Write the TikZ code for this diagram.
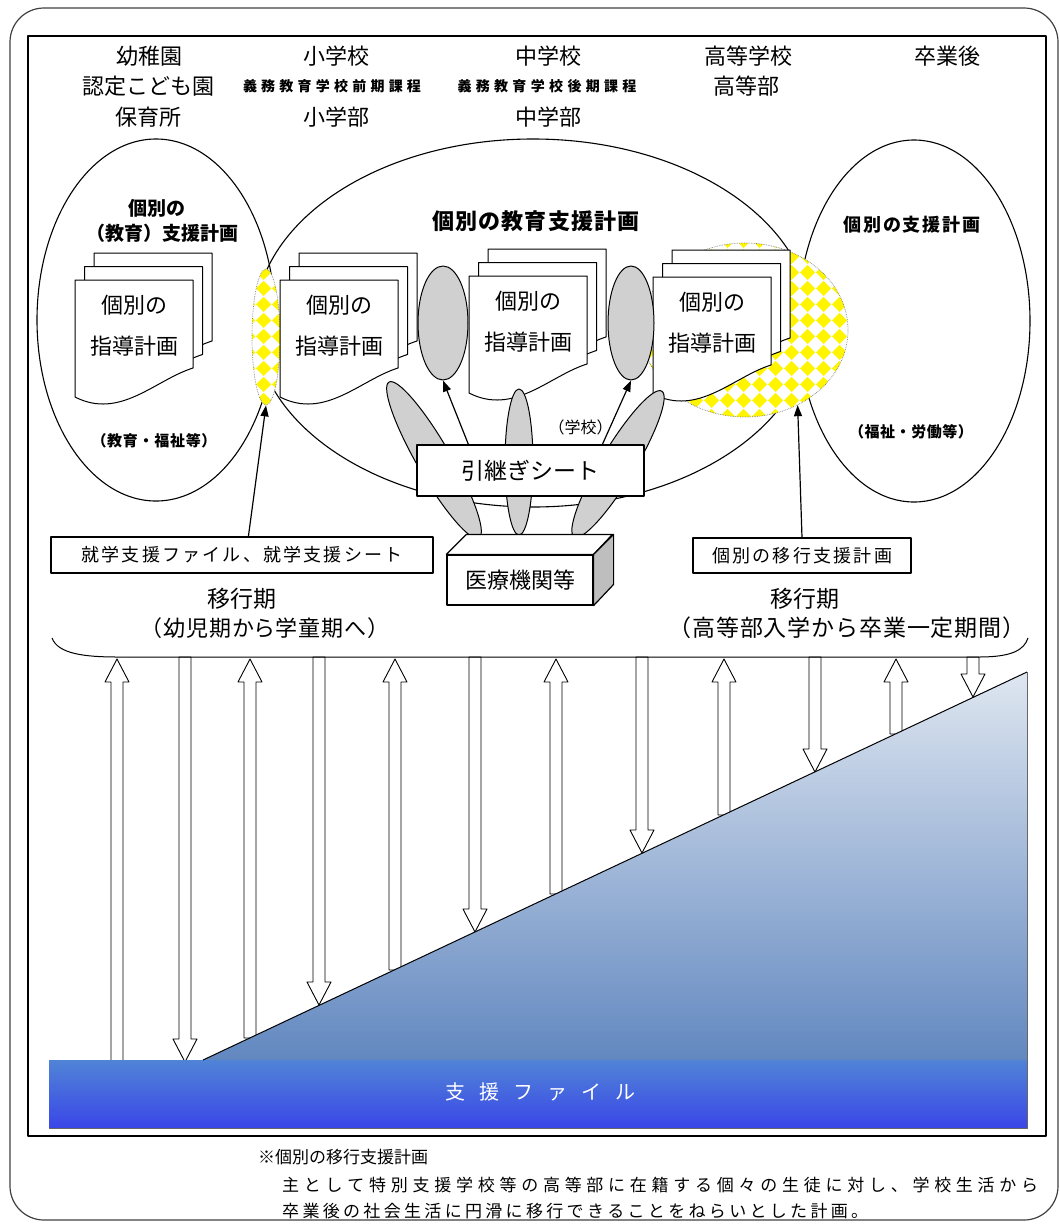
\documentclass[tikz,border=0pt]{standalone}
\usepackage{fontspec}
\setmainfont{Noto Sans CJK JP}
\usetikzlibrary{shapes.geometric,arrows.meta,patterns,calc}
\definecolor{grayfill}{RGB}{208,208,208}
\definecolor{sidegray}{RGB}{190,190,190}
\definecolor{tritop}{RGB}{222,230,240}
\definecolor{tribot}{RGB}{98,136,192}
\definecolor{bandtop}{RGB}{80,132,214}
\definecolor{bandbot}{RGB}{58,70,232}
\definecolor{ylw}{RGB}{255,245,0}
\makeatletter
\newcommand\spreadtext[2]{\hbox to #1{\spr@ad#2\relax}}
\def\spr@ad#1{\ifx\relax#1\unskip\else#1\hfill\expandafter\spr@ad\fi}
\makeatother
\newcommand\fsz[1]{\fontsize{#1pt}{#1pt}\selectfont}
\pgfdeclarepatternformonly{ydiam}{\pgfqpoint{0pt}{0pt}}{\pgfqpoint{16pt}{16pt}}{\pgfqpoint{16pt}{16pt}}{%
  \pgfpathmoveto{\pgfqpoint{8pt}{0pt}}%
  \pgfpathlineto{\pgfqpoint{16pt}{8pt}}%
  \pgfpathlineto{\pgfqpoint{8pt}{16pt}}%
  \pgfpathlineto{\pgfqpoint{0pt}{8pt}}%
  \pgfpathclose\pgfusepath{fill}}
\newcommand\blkup[3]{\filldraw[barrow] (#1-6,#3) -- (#1-6,#2+23) -- (#1-12,#2+23) -- (#1,#2) -- (#1+12,#2+23) -- (#1+6,#2+23) -- (#1+6,#3) -- cycle;}
\newcommand\blkdown[3]{\filldraw[barrow] (#1-6,#2) -- (#1-6,#3-23) -- (#1-12,#3-23) -- (#1,#3) -- (#1+12,#3-23) -- (#1+6,#3-23) -- (#1+6,#2) -- cycle;}
\tikzset{
  every node/.style={inner sep=0pt},
  hdr/.style={font=\fsz{22}},
  hdrs/.style={font=\fsz{14}\bfseries},
  doctxt/.style={font=\fsz{22}},
  docsheet/.pic={\filldraw[fill=white,line width=1pt] (0,0) -- (118,0) -- (118,88) .. controls (80,100) and (45,140) .. (0,117) -- cycle;},
  docstack/.pic={\pic at (19,-27) {docsheet}; \pic at (9.5,-13.5) {docsheet}; \pic at (0,0) {docsheet};
    \node[doctxt] (-a) at (59,25) {個別の}; \node[doctxt] (-b) at (59,66) {指導計画};},
  bigell/.style={ellipse, draw, line width=1.1pt, inner sep=0pt},
  hatch/.style={ellipse, inner sep=0pt, preaction={fill=white}, pattern=ydiam, pattern color=ylw, draw=gray, densely dotted, line width=0.7pt},
  grayell/.style={ellipse, draw, fill=grayfill, line width=1pt, inner sep=0pt},
  box/.style={draw, fill=white, line width=1.2pt, inner sep=0pt},
  arr/.style={-{Triangle[length=11pt,width=8pt]}, line width=1.2pt},
  barrow/.style={fill=white, draw, line width=0.9pt},
}
\begin{document}
\begin{tikzpicture}[x=1pt,y=-1pt,line join=round]
\useasboundingbox (0,0) rectangle (1060,1224);
% frames
\draw[line width=1.2pt, black!75, rounded corners=34] (10,8) rectangle (1058,1220);
\draw[line width=1.2pt] (28,36) rectangle (1046,1136);
% header
\node[hdr] (h1a) at (149,56) {幼稚園};
\node[hdr] (h1b) at (148,86) {認定こども園};
\node[hdr] (h1c) at (148,117) {保育所};
\node[hdr] (h2a) at (336,56) {小学校};
\node[hdrs] (h2b) at (332,86) {\spreadtext{178pt}{義務教育学校前期課程}};
\node[hdr] (h2c) at (336,117) {小学部};
\node[hdr] (h3a) at (548,56) {中学校};
\node[hdrs] (h3b) at (547,86) {\spreadtext{179pt}{義務教育学校後期課程}};
\node[hdr] (h3c) at (548,117) {中学部};
\node[hdr] (h4a) at (748,56) {高等学校};
\node[hdr] (h4b) at (746,86) {高等部};
\node[hdr] (h5a) at (947,56) {卒業後};
% big ellipses
\node[bigell, minimum width=238, minimum height=362] (LE) at (156,320) {};
\node[bigell, minimum width=556, minimum height=368] (CE) at (533,323) {};
\node[bigell, minimum width=232, minimum height=362] (RE) at (914,321) {};
% overlaps
\node[hatch, minimum width=28, minimum height=136] (lens) at (266,337) {};
\node[hatch, minimum width=206, minimum height=174] (blob) at (745,330) {};
% documents
\pic (d1) at (75,280) {docstack};
\pic (d2) at (280,280) {docstack};
\pic (d3) at (469,276) {docstack};
\pic (d4) at (653,277) {docstack};
% gray ellipses
\node[grayell, minimum width=50, minimum height=114] (g1) at (443,323) {};
\node[grayell, minimum width=46, minimum height=114] (g2) at (631,323) {};
% ellipse labels
\node[font=\fsz{19}\bfseries] (le1) at (157,208) {個別の};
\node[font=\fsz{19}\bfseries] (le2) at (161,233) {\spreadtext{150pt}{（教育）支援計画}};
\node[font=\fsz{22}\bfseries] (ce1) at (536,221) {\spreadtext{208pt}{個別の教育支援計画}};
\node[font=\fsz{18}\bfseries] (re1) at (912,225) {\spreadtext{137pt}{個別の支援計画}};
\node[font=\fsz{15}\bfseries] (le3) at (154,441) {\spreadtext{125pt}{（教育・福祉等）}};
\node[font=\fsz{16}] (gk) at (578,427) {\spreadtext{59pt}{（学校）}};
\node[font=\fsz{15}\bfseries] (re3) at (911,432) {\spreadtext{124pt}{（福祉・労働等）}};
% petals
\node[grayell, minimum width=34, minimum height=180, rotate=30] (p1) at (434,460) {};
\node[grayell, minimum width=28, minimum height=146] (p2) at (519,462) {};
\node[grayell, minimum width=34, minimum height=170, rotate=-31] (p3) at (618,464) {};
% boxes
\node[box, minimum width=227, minimum height=51, font=\fsz{23}] (hs) at (530.5,470.5) {引継ぎシート};
\node[box, minimum width=146, minimum height=50, font=\fsz{22}] (med) at (520,580) {医療機関等};
\filldraw[fill=white, line width=1.2pt] (med.north west) -- ++(20,-20) -- ++(146,0) -- (med.north east) -- cycle;
\filldraw[fill=sidegray, line width=1.2pt] (med.north east) -- ++(20,-20) -- ++(0,50) -- (med.south east) -- cycle;
\node[box, minimum width=382, minimum height=36, font=\fsz{18}] (fsb) at (242,555) {\spreadtext{321pt}{就学支援ファイル、就学支援シート}};
\node[box, minimum width=218, minimum height=35, font=\fsz{18}] (ikou) at (802,555.5) {\spreadtext{180pt}{個別の移行支援計画}};
% arrows
\draw[arr] ($(fsb.north west)+(198,0)$) -- (lens.south);
\draw[arr] ($(hs.north west)+(52,0)$) -- (g1.south);
\draw[arr] ($(hs.north west)+(186,0)$) -- (g2.south);
\draw[arr] (ikou.north) -- (blob.-55);
% transition labels
\node[font=\fsz{23}] (ik1) at (242,599) {移行期};
\node[font=\fsz{22}\addfontfeatures{RawFeature=+palt}] (ik1b) at (265,628) {\spreadtext{228pt}{（幼児期から学童期へ）}};
\node[font=\fsz{23}] (ik2) at (805,599) {移行期};
\node[font=\fsz{23}] (ik2b) at (847,628) {\spreadtext{357pt}{（高等部入学から卒業一定期間）}};
% block arrows
\blkup{117}{659}{1062}
\blkdown{185}{657}{1062}
\blkup{250}{659}{1038}
\blkdown{319}{657}{1005}
\blkup{395}{659}{970}
\blkdown{475}{657}{932}
\blkup{556}{659}{894}
\blkdown{642}{657}{853}
\blkup{724}{659}{815}
\blkdown{815}{657}{772}
\blkup{896}{659}{734}
\blkdown{973}{657}{697}
% support file
\shade[top color=tritop, bottom color=tribot] (203,1060) -- (1027,672) -- (1027,1060) -- cycle;
\shade[top color=bandtop, bottom color=bandbot] (49,1060) rectangle (1027,1128);
\draw[line width=1pt] (203,1060) -- (1027,672);
\draw[line width=0.9pt, black!60] (1027,672) -- (1027,1128) -- (49,1128);
\node[font=\fsz{20}, text=white] (sf) at (540,1092) {\spreadtext{190pt}{支援ファイル}};
% bracket
\draw[line width=1pt] (52,638) .. controls (58,654) and (85,657) .. (118,657) -- (979,657) .. controls (1012,657) and (1024,650) .. (1028,638);
% footnote
\node[font=\fsz{17}, anchor=west] (fn1) at (258,1157) {※個別の移行支援計画};
\node[font=\fsz{17}, anchor=west] (fn2) at (282,1185) {\spreadtext{756pt}{主として特別支援学校等の高等部に在籍する個々の生徒に対し、学校生活から}};
\node[font=\fsz{17}, anchor=west] (fn3) at (282,1211) {\spreadtext{586pt}{卒業後の社会生活に円滑に移行できることをねらいとした計画。}};
\end{tikzpicture}
\end{document}
